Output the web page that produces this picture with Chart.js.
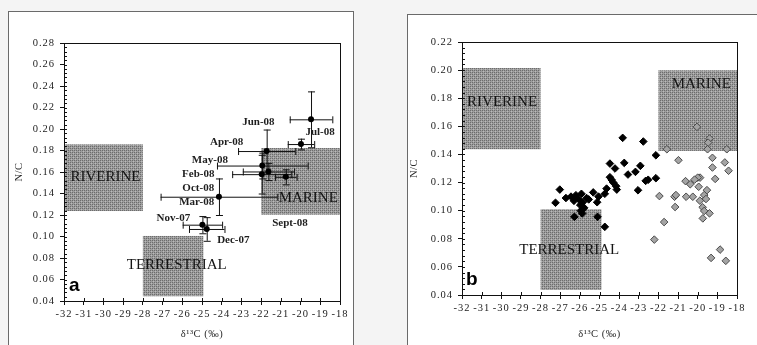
<!DOCTYPE html>
<html>
<head>
<meta charset="utf-8">
<script src="https://cdn.jsdelivr.net/npm/chart.js@4"></script>
<style>
body { margin: 0; width: 757px; height: 345px; background: #f4f4f4; position: relative; overflow: hidden; }
.frame { position: absolute; background: #fff; border: 1px solid #6a6a6a; }
canvas { position: absolute; top: 0; }
</style>
</head>
<body>
<div class="frame" style="left:8px;top:11px;width:344px;height:345px"></div>
<div class="frame" style="left:407px;top:14px;width:360px;height:345px"></div>
<canvas id="chartA" width="357" height="345" style="left:0"></canvas>
<canvas id="chartB" width="377" height="345" style="left:380px"></canvas>
<script>
// Axis ticks
const xTicks = [-32, -31, -30, -29, -28, -27, -26, -25, -24, -23, -22, -21, -20, -19, -18];
const yTicksA = [0.04, 0.06, 0.08, 0.10, 0.12, 0.14, 0.16, 0.18, 0.20, 0.22, 0.24, 0.26, 0.28];
const yTicksB = [0.04, 0.06, 0.08, 0.10, 0.12, 0.14, 0.16, 0.18, 0.20, 0.22];

// Panel a: monthly means with error bars
const aX    = [-19.47, -19.98, -21.72, -21.94, -21.97, -21.63, -20.75, -24.14, -24.98, -24.76];
const aY    = [0.209, 0.186, 0.1795, 0.166, 0.158, 0.1605, 0.1555, 0.137, 0.111, 0.107];
const aXErr = [1.08, 0.67, 1.45, 2.3, 1.5, 1.3, 0.55, 2.96, 1.0, 0.9];
const aYErr = [0.026, 0.005, 0.02, 0.012, 0.018, 0.008, 0.007, 0.017, 0.008, 0.011];

// Panel a: month labels (anchored in data units)
const monthNames = ['Jun-08', 'Jul-08', 'Apr-08', 'May-08', 'Feb-08', 'Oct-08', 'Mar-08', 'Nov-07', 'Dec-07', 'Sept-08'];
const monthLabX  = [-22.14, -19.01, -23.75, -24.6, -25.19, -25.19, -25.27, -26.45, -23.41, -20.54];
const monthLabY  = [0.2065, 0.1966, 0.1873, 0.1709, 0.1584, 0.1451, 0.1315, 0.1175, 0.0964, 0.1126];

// Panel b: black diamonds
const blackX = [-27.24, -27.02, -26.71, -26.45, -26.3, -26.2, -26.28, -26.05, -25.98, -25.92, -25.95, -25.88, -25.85, -25.78,
                -25.66, -25.55, -25.32, -25.1, -25.12, -25.05, -24.73, -24.73, -24.64, -24.47, -24.47, -24.38, -24.3, -24.21,
                -24.15, -24.12, -23.82, -23.74, -23.55, -23.17, -23.04, -22.92, -22.77, -22.65, -22.52, -22.13, -22.13];
const blackY = [0.1056, 0.115, 0.109, 0.110, 0.107, 0.111, 0.0956, 0.108, 0.104, 0.112, 0.100, 0.098, 0.106, 0.102,
                0.109, 0.108, 0.113, 0.0956, 0.106, 0.110, 0.112, 0.0885, 0.1157, 0.1335, 0.1238, 0.1219, 0.120, 0.130,
                0.1174, 0.115, 0.1518, 0.134, 0.1257, 0.1276, 0.1145, 0.1319, 0.1492, 0.1212, 0.122, 0.1231, 0.1394];

// Panel b: grey diamonds
const greyX = [-20.04, -21.57, -20.98, -19.4, -19.47, -19.5, -18.52, -19.25, -18.62, -19.25, -18.43, -19.11, -19.88,
               -20.0, -20.16, -20.62, -20.38, -19.95, -19.53, -19.67, -19.58, -19.89, -19.75, -19.67, -19.4, -19.74,
               -20.25, -20.59, -21.18, -21.11, -21.15, -21.95, -21.71, -22.21, -18.86, -19.32, -18.57];
const greyY = [0.1596, 0.1437, 0.1359, 0.1513, 0.1484, 0.1437, 0.1437, 0.1376, 0.1343, 0.1307, 0.1284, 0.1226, 0.1235,
               0.1235, 0.1221, 0.121, 0.1188, 0.117, 0.1146, 0.1111, 0.1083, 0.1071, 0.1024, 0.0998, 0.0981, 0.0945,
               0.1099, 0.1099, 0.1099, 0.1111, 0.1026, 0.1104, 0.0919, 0.0794, 0.0723, 0.0664, 0.0643];

// Source regions [xMin, xMax, yMin, yMax] and label anchors
const regionNames = ['RIVERINE', 'MARINE', 'TERRESTRIAL'];
const regionsA = [[-32, -28, 0.1237, 0.1857], [-22, -18, 0.1203, 0.1823], [-28, -24.93, 0.0444, 0.1005]];
const regionLabA = [[-29.9, 0.1553], [-19.61, 0.1361], [-26.28, 0.0732]];
const regionsB = [[-32, -28, 0.1437, 0.2015], [-22, -18, 0.1425, 0.1999], [-28, -24.9, 0.0436, 0.101]];
const regionLabB = [[-29.96, 0.1774], [-19.82, 0.1904], [-26.54, 0.072]];

function makeTexture(ctx) {
    const c = document.createElement('canvas');
    c.width = 4; c.height = 4;
    const g = c.getContext('2d');
    g.fillStyle = '#9d9d9d';
    g.fillRect(0, 0, 4, 4);
    g.fillStyle = '#6c6c6c';
    g.fillRect(0, 0, 1, 1); g.fillRect(2, 2, 1, 1); g.fillRect(2, 0, 1, 1); g.fillRect(0, 2, 1, 1);
    g.fillStyle = '#bababa';
    g.fillRect(1, 1, 1, 1); g.fillRect(3, 3, 1, 1);
    return ctx.createPattern(c, 'repeat');
}

function toPoints(xs, ys) {
    return xs.map((x, i) => ({ x: x, y: ys[i] }));
}

// Draws the grey source boxes, error bars, labels, frame and minor ticks
function panelPlugin(cfg) {
    return {
        id: 'panel' + cfg.letter,
        beforeDraw(chart) {
            chart.ctx.letterSpacing = '1px';
        },
        beforeDatasetsDraw(chart) {
            const ctx = chart.ctx, xs = chart.scales.x, ys = chart.scales.y;
            ctx.save();
            ctx.fillStyle = makeTexture(ctx);
            cfg.regions.forEach(r => {
                const x0 = xs.getPixelForValue(r[0]), x1 = xs.getPixelForValue(r[1]);
                const y0 = ys.getPixelForValue(r[3]), y1 = ys.getPixelForValue(r[2]);
                ctx.fillRect(x0, y0, x1 - x0, y1 - y0);
            });
            ctx.font = '15px "Liberation Serif", serif';
            ctx.letterSpacing = '0px';
            ctx.fillStyle = '#141414';
            ctx.textAlign = 'center';
            ctx.textBaseline = 'middle';
            cfg.regionLab.forEach((p, i) => {
                ctx.fillText(regionNames[i], xs.getPixelForValue(p[0]), ys.getPixelForValue(p[1]));
            });
            if (cfg.errX) {
                ctx.strokeStyle = '#111';
                ctx.lineWidth = 1;
                ctx.beginPath();
                cfg.errX.forEach((_, i) => {
                    const px = xs.getPixelForValue(cfg.ptX[i]), py = ys.getPixelForValue(cfg.ptY[i]);
                    const xl = xs.getPixelForValue(cfg.ptX[i] - cfg.errX[i]), xr = xs.getPixelForValue(cfg.ptX[i] + cfg.errX[i]);
                    const yt = ys.getPixelForValue(cfg.ptY[i] + cfg.errY[i]), yb = ys.getPixelForValue(cfg.ptY[i] - cfg.errY[i]);
                    ctx.moveTo(xl, py + 0.5); ctx.lineTo(xr, py + 0.5);
                    ctx.moveTo(xl + 0.5, py - 3); ctx.lineTo(xl + 0.5, py + 4);
                    ctx.moveTo(xr + 0.5, py - 3); ctx.lineTo(xr + 0.5, py + 4);
                    ctx.moveTo(px + 0.5, yt); ctx.lineTo(px + 0.5, yb);
                    ctx.moveTo(px - 3, yt + 0.5); ctx.lineTo(px + 4, yt + 0.5);
                    ctx.moveTo(px - 3, yb + 0.5); ctx.lineTo(px + 4, yb + 0.5);
                });
                ctx.stroke();
            }
            ctx.restore();
        },
        afterDatasetsDraw(chart) {
            const ctx = chart.ctx, xs = chart.scales.x, ys = chart.scales.y, a = chart.chartArea;
            ctx.save();
            if (cfg.names) {
                ctx.font = 'bold 11px "Liberation Serif", serif';
                ctx.letterSpacing = '0px';
                ctx.fillStyle = '#1e1e1e';
                ctx.textAlign = 'center';
                ctx.textBaseline = 'middle';
                cfg.names.forEach((n, i) => {
                    ctx.fillText(n, xs.getPixelForValue(cfg.labX[i]), ys.getPixelForValue(cfg.labY[i]));
                });
            }
            // plot frame
            ctx.strokeStyle = '#111';
            ctx.lineWidth = 1;
            ctx.strokeRect(Math.round(a.left) + 0.5, Math.round(a.top) + 0.5, Math.round(a.right - a.left), Math.round(a.bottom - a.top));
            // inner ticks
            ctx.beginPath();
            const yMin = ys.min, yMax = ys.max;
            for (let k = 0; k * 0.004 <= yMax - yMin + 1e-9; k++) {
                const py = Math.round(ys.getPixelForValue(yMin + k * 0.004)) + 0.5;
                ctx.moveTo(a.left, py); ctx.lineTo(a.left + 3, py);
            }
            xTicks.forEach(v => {
                const px = Math.round(xs.getPixelForValue(v)) + 0.5;
                ctx.moveTo(px, a.bottom); ctx.lineTo(px, a.bottom - 3);
            });
            ctx.stroke();
            // panel letter
            ctx.font = 'bold 19px "Liberation Sans", Arial, sans-serif';
            ctx.letterSpacing = '0px';
            ctx.fillStyle = '#000';
            ctx.textAlign = 'left';
            ctx.textBaseline = 'alphabetic';
            ctx.fillText(cfg.letter, a.left + cfg.letterDx, a.bottom - 10);
            // axis titles
            ctx.font = '10.5px "Liberation Serif", serif';
            ctx.letterSpacing = '0.5px';
            ctx.fillStyle = '#2a2a2a';
            ctx.textAlign = 'center';
            ctx.textBaseline = 'middle';
            ctx.fillText('δ¹³C (‰)', (a.left + a.right) / 2, cfg.xTitleY);
            ctx.translate(cfg.yTitleX, (a.top + a.bottom) / 2);
            ctx.rotate(-Math.PI / 2);
            ctx.fillText('N/C', 0, 0);
            ctx.restore();
        }
    };
}

function makeOptions(yTicks, pad, yWidth, xHeight) {
    const tickFont = { family: '"Liberation Serif", serif', size: 10.5 };
    return {
        responsive: false,
        animation: false,
        layout: { padding: pad },
        plugins: { legend: { display: false }, tooltip: { enabled: false } },
        scales: {
            x: {
                type: 'linear',
                min: xTicks[0], max: xTicks[xTicks.length - 1],
                afterBuildTicks: s => { s.ticks = xTicks.map(v => ({ value: v })); },
                afterFit: s => { s.height = xHeight; },
                ticks: { font: tickFont, color: '#222', padding: 3, maxRotation: 0, autoSkip: false, callback: v => String(v) },
                grid: { drawOnChartArea: false, drawTicks: true, tickLength: 4, tickColor: '#111' },
                border: { color: '#111' }
            },
            y: {
                type: 'linear',
                min: yTicks[0], max: yTicks[yTicks.length - 1],
                afterBuildTicks: s => { s.ticks = yTicks.map(v => ({ value: v })); },
                afterFit: s => { s.width = yWidth; },
                ticks: { font: tickFont, color: '#222', padding: 5, autoSkip: false, callback: v => Number(v).toFixed(2) },
                grid: { drawOnChartArea: false, drawTicks: true, tickLength: 4, tickColor: '#111' },
                border: { color: '#111' }
            }
        }
    };
}

new Chart(document.getElementById('chartA'), {
    type: 'scatter',
    data: {
        datasets: [{
            data: toPoints(aX, aY),
            pointStyle: 'circle', pointRadius: 3, backgroundColor: '#000', borderColor: '#000', borderWidth: 0
        }]
    },
    options: makeOptions(yTicksA, { left: 10, right: 17, top: 43, bottom: 0 }, 54, 44),
    plugins: [panelPlugin({
        letter: 'a', letterDx: 5, xTitleY: 334, yTitleX: 19,
        regions: regionsA, regionLab: regionLabA,
        ptX: aX, ptY: aY, errX: aXErr, errY: aYErr,
        names: monthNames, labX: monthLabX, labY: monthLabY
    })]
});

new Chart(document.getElementById('chartB'), {
    type: 'scatter',
    data: {
        datasets: [{
            data: toPoints(greyX, greyY),
            pointStyle: 'rectRot', pointRadius: 3.8, backgroundColor: '#a4a4a4', borderColor: '#4a4a4a', borderWidth: 1
        }, {
            data: toPoints(blackX, blackY),
            pointStyle: 'rectRot', pointRadius: 3.8, backgroundColor: '#000', borderColor: '#000', borderWidth: 1
        }]
    },
    options: makeOptions(yTicksB, { left: 20, right: 20, top: 42, bottom: 0 }, 62, 50),
    plugins: [panelPlugin({
        letter: 'b', letterDx: 4, xTitleY: 334, yTitleX: 34,
        regions: regionsB, regionLab: regionLabB
    })]
});
</script>
</body>
</html>
